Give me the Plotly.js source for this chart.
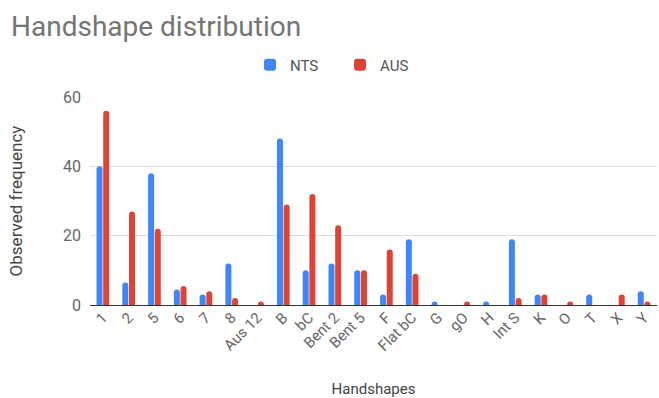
<!DOCTYPE html>
<html>
<head>
<meta charset="utf-8">
<script src="https://cdn.plot.ly/plotly-3.0.1.min.js"></script>
<style>
html,body{margin:0;padding:0;background:#fff;}
#chart{width:659px;height:398px;}
</style>
</head>
<body>
<div id="chart"></div>
<script>
const categories = ["1","2","5","6","7","8","Aus 12","B","bC","Bent 2","Bent 5","F","Flat bC","G","gO","H","Int S","K","O","T","X","Y"];
const ntsValues = [40, 6.5, 38, 4.5, 3, 12, 0, 48, 10, 12, 10, 3, 19, 1, 0, 1, 19, 3, 0, 3, 0, 4];
const ausValues = [56, 27, 22, 5.5, 4, 2, 1, 29, 32, 23, 10, 16, 9, 0, 1, 0, 2, 3, 1, 0, 3, 1];
const yTicks = [0, 20, 40, 60];

const font = "Roboto, Arial, sans-serif";
const data = [
  {type: "bar", name: "NTS", x: categories, y: ntsValues,
   marker: {color: "#4285F4", cornerradius: 3}},
  {type: "bar", name: "AUS", x: categories, y: ausValues,
   marker: {color: "#DB4437", cornerradius: 3}}
];
const layout = {
  width: 659, height: 398,
  margin: {l: 90, r: 2, t: 97, b: 93},
  paper_bgcolor: "#fff", plot_bgcolor: "#fff",
  font: {family: font, color: "#666", size: 15},
  barmode: "group", bargap: 0.48, bargroupgap: 0.1,
  title: {text: "Handshape distribution", x: 11/659, xanchor: "left", xref: "container",
          y: 1 - 26/398, yanchor: "middle", yref: "container",
          font: {family: font, size: 28, color: "#757575"}},
  showlegend: true,
  legend: {orientation: "h", x: 250/659, xref: "container", xanchor: "left",
           y: 1 - 65/398, yref: "container", yanchor: "middle",
           entrywidth: 45, entrywidthmode: "pixels",
           font: {family: font, size: 15, color: "#555"}, traceorder: "normal"},
  xaxis: {tickangle: -45, tickfont: {family: font, size: 15, color: "#666"},
          showgrid: false, showline: false, ticks: "", automargin: false,
          title: {text: "Handshapes", font: {family: font, size: 15, color: "#444"}, standoff: 29}},
  yaxis: {range: [0, 60], tickvals: yTicks, ticktext: yTicks.map(String),
          tickfont: {family: font, size: 16, color: "#666"},
          gridcolor: "#ddd", zeroline: true, zerolinecolor: "#333", zerolinewidth: 1,
          ticks: "", ticklabelstandoff: 8, automargin: false,
          title: {text: "Observed frequency", font: {family: font, size: 17, color: "#444"}, standoff: 36}}
};
Plotly.newPlot("chart", data, layout, {displayModeBar: false, staticPlot: true});
</script>
</body>
</html>
